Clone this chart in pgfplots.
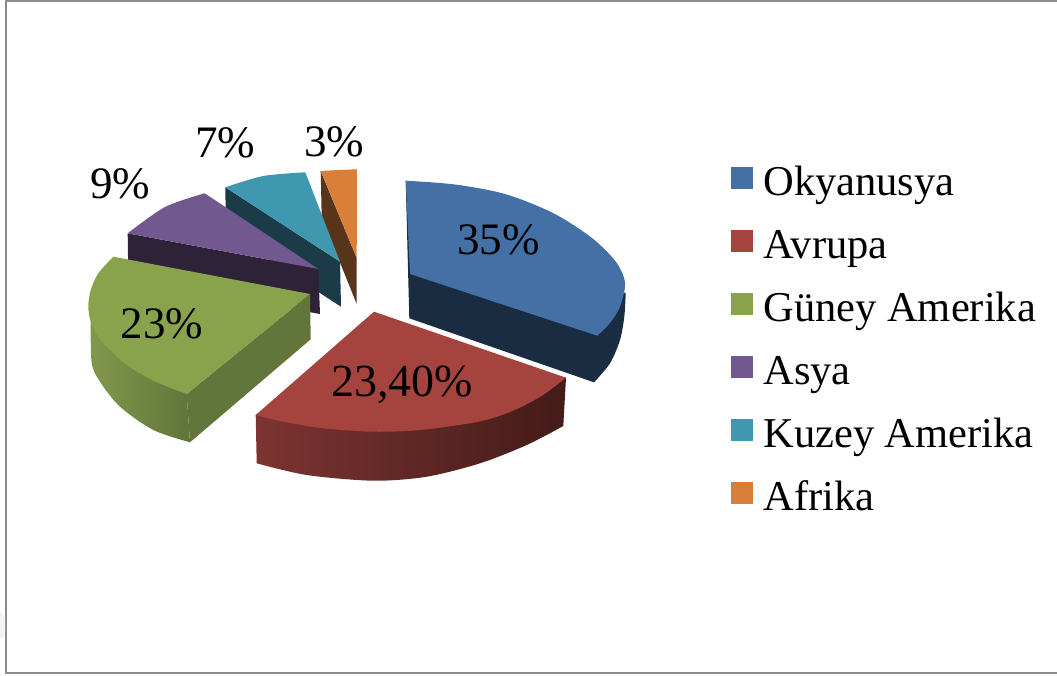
\documentclass[border=0pt]{standalone}
\usepackage{fontspec}
\setmainfont{Liberation Serif}
\usepackage{pgfplots}
\pgfplotsset{compat=1.18}

\definecolor{okyA}{HTML}{4470A5}
\definecolor{okyB}{HTML}{1A2C42}
\definecolor{avrA}{HTML}{A5433F}
\definecolor{avrL}{HTML}{7C3432}
\definecolor{avrR}{HTML}{431B18}
\definecolor{gunA}{HTML}{88A34B}
\definecolor{gunL}{HTML}{81974C}
\definecolor{gunR}{HTML}{62753A}
\definecolor{asyA}{HTML}{71588F}
\definecolor{asyB}{HTML}{2D2238}
\definecolor{kuzA}{HTML}{4098B0}
\definecolor{kuzB}{HTML}{1A3B47}
\definecolor{afrA}{HTML}{D87F3A}
\definecolor{afrB}{HTML}{57341A}
\definecolor{framegray}{HTML}{8C8C8C}
\tikzset{pct/.style={anchor=base, inner sep=0pt, font=\fontsize{45}{45}\selectfont}}

\begin{document}
\begin{tikzpicture}
\path[use as bounding box] (0,0) rectangle (1057pt,675pt);
\begin{axis}[
  at={(0,0)}, anchor=south west,
  scale only axis, width=1057pt, height=675pt,
  xmin=0, xmax=1057, ymin=0, ymax=675,
  y dir=reverse,
  axis lines=none,
  clip=false,
  legend cell align=left,
  legend image code/.code={\fill[#1] (0pt,-4pt) rectangle (22.3pt,18pt);},
  legend style={
    at={(0.6916,0.7549)}, anchor=north west,
    draw=none, fill=none, inner sep=0pt, outer sep=0pt,
    font=\fontsize{42.5}{42.5}\selectfont,
    nodes={inner sep=0pt, outer sep=0pt, text height=30pt, text depth=10pt},
    row sep=23pt, column sep=10pt,
  },
  every axis plot/.append style={forget plot, draw=none},
]
% frame
\addplot[draw=framegray, line width=2pt] coordinates {(1057,1) (6,1) (6,673) (1057,673)};
\addplot[fill=black!5] coordinates {(0,612) (5,618) (5,634) (0,640)} -- cycle;

% Afrika
\addplot[fill=afrB] coordinates {(320.7,171) (356.7,258) (356.7,304) (321.7,217)} -- cycle;
\addplot[fill=afrA, smooth] coordinates {(320.7,171) (339,170) (357,169.3)} -- (axis cs:356.7,258) -- cycle;

% Kuzey Amerika
\addplot[fill=kuzB] coordinates {(225.3,187.3) (340,261.7) (341,306.7) (226,232)} -- cycle;
\addplot[fill=kuzA, smooth] coordinates {(225.3,187.3) (263.3,176) (305.3,172.3)} -- (axis cs:340,261.7) -- cycle;

% Asya
\addplot[fill=asyB] coordinates {(127.7,233.3) (318.3,269) (320,314) (128.3,278)} -- cycle;
\addplot[fill=asyA, smooth] coordinates {(127.7,233.3) (165,207) (204.7,193.3)} -- (axis cs:318.3,269) -- cycle;

% Guney Amerika
\addplot[fill=gunR] coordinates {(310,294) (310.7,339.3) (190,442.3) (186.7,394)} -- cycle;
\addplot[left color=gunL, right color=gunR, smooth] coordinates {(90.7,321.7) (91.7,363) (100,381.7) (120,406.7) (153.3,430) (190,442.3)} -- (axis cs:186.7,394) -- (axis cs:150,330) -- cycle;
\addplot[fill=gunA, smooth] coordinates {(186.7,394) (153.3,380.7) (126.7,365) (110,350) (98.3,337.3) (90.7,321.7) (88.3,306.7) (90.7,290) (98.3,273.3) (113.3,256.7)} -- (axis cs:310,294) -- cycle;

% Avrupa
\addplot[left color=avrL, right color=avrR, smooth] coordinates {(256.7,463.3) (306.7,475) (373.3,480.7) (426.7,476.7) (480,463.3) (526.7,445) (563.3,426)} -- (axis cs:566,377.7) -- (axis cs:374,340) -- (axis cs:255.7,415) -- cycle;
\addplot[fill=avrA, smooth] coordinates {(255.7,415) (283.3,421.7) (323.3,428.3) (373.3,431.7) (420,430) (473.3,422.7) (500,415.7) (523.3,406) (545,393.7) (566,377.7)} -- (axis cs:374,311.7) -- cycle;

% Okyanusya
\addplot[fill=okyB, smooth] coordinates {(625.7,293.3) (624.3,316.7) (620,340) (610,363.3) (594,382.3)} -- (axis cs:409.3,318.3) -- (axis cs:405.7,180.7) -- cycle;
\addplot[fill=okyA, smooth] coordinates {(405.7,180.7) (455,184.5) (505,194) (553,213) (592,238) (616,262) (625,283) (620,306.7) (610,323) (597.3,335.7)} -- (axis cs:410,274) -- cycle;

% data labels
\node[pct] at (axis cs:498.3,254.3) {35\%};
\node[pct, font=\fontsize{46}{46}\selectfont] at (axis cs:402,396.7) {23,40\%};
\node[pct] at (axis cs:162,338.3) {23\%};
\node[pct] at (axis cs:120,198) {9\%};
\node[pct] at (axis cs:225,157.7) {7\%};
\node[pct] at (axis cs:334,156) {3\%};

% legend
\addlegendimage{fill=okyA}\addlegendentry{Okyanusya}
\addlegendimage{fill=avrA}\addlegendentry{Avrupa}
\addlegendimage{fill=gunA}\addlegendentry{Güney Amerika}
\addlegendimage{fill=asyA}\addlegendentry{Asya}
\addlegendimage{fill=kuzA}\addlegendentry{Kuzey Amerika}
\addlegendimage{fill=afrA}\addlegendentry{Afrika}
\end{axis}
\end{tikzpicture}
\end{document}
